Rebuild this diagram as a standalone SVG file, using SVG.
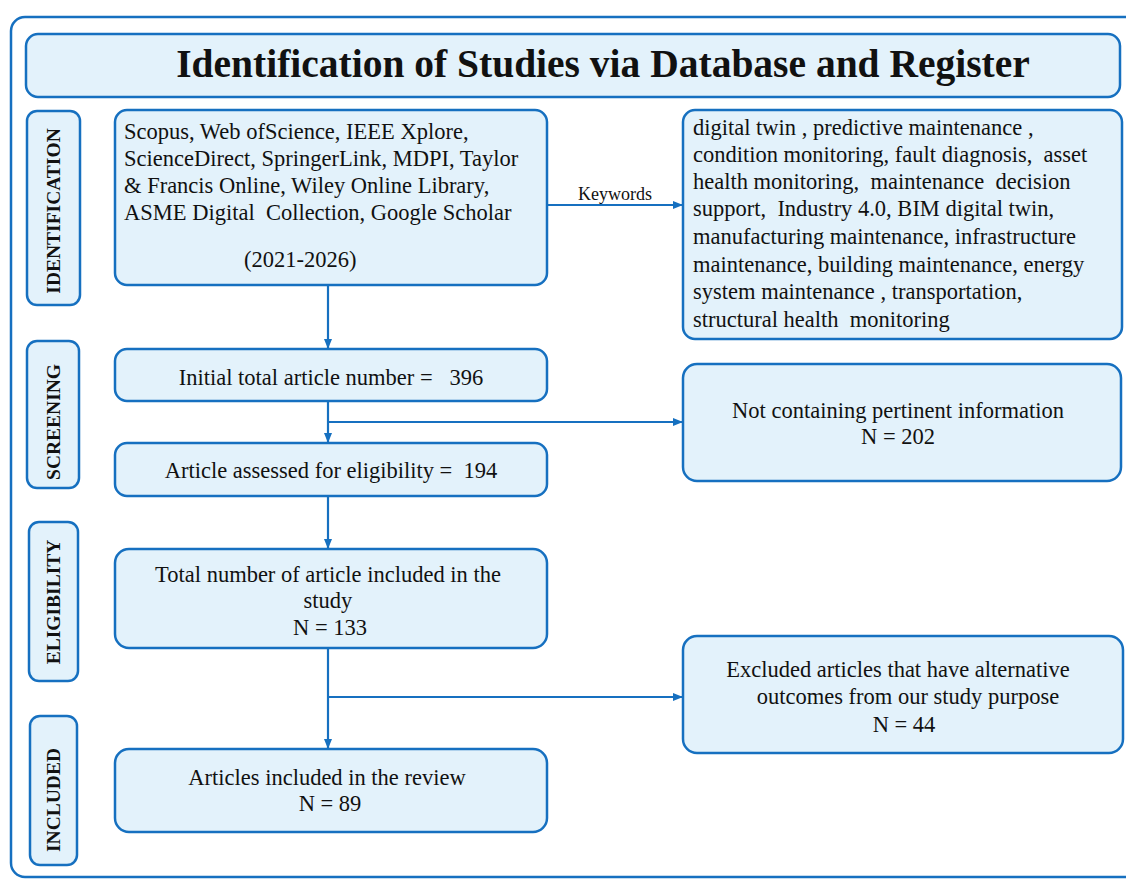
<svg xmlns="http://www.w3.org/2000/svg" width="1126" height="879" viewBox="0 0 1126 879">
<style>
.box{fill:#E3F2FB;stroke:#1670C0;stroke-width:2.5}
.frame{fill:none;stroke:#1670C0;stroke-width:2.5}
.t{font-family:"Liberation Serif","Times New Roman",serif;font-size:22.5px;fill:#111;white-space:pre}
.c{text-anchor:middle}
.side{font-family:"Liberation Serif","Times New Roman",serif;font-size:19.5px;font-weight:bold;fill:#111;text-anchor:middle}
.title{font-family:"Liberation Serif","Times New Roman",serif;font-size:39.5px;font-weight:bold;fill:#111;text-anchor:middle}
.ln{fill:none;stroke:#1670C0;stroke-width:2.2}
</style>
<defs>
<marker id="ah" markerWidth="10" markerHeight="10" refX="9" refY="5" orient="auto" markerUnits="userSpaceOnUse">
<path d="M0,1 L10,5 L0,9 Z" fill="#1670C0"/>
</marker>
</defs>
<rect class="frame" x="11" y="17" width="1140" height="860" rx="14"/>
<g id="title"><rect class="box" x="26" y="34" width="1094" height="63" rx="12"/><text class="title" x="603" y="77">Identification of Studies via Database and Register</text></g>
<g id="lbl-identification"><rect class="box" x="27" y="111" width="53" height="194" rx="10"/><text class="side" transform="translate(60,211) rotate(-90)">IDENTIFICATION</text></g>
<g id="lbl-screening"><rect class="box" x="27" y="341" width="52" height="147" rx="10"/><text class="side" transform="translate(60,422) rotate(-90)">SCREENING</text></g>
<g id="lbl-eligibility"><rect class="box" x="29" y="522" width="49" height="159" rx="10"/><text class="side" transform="translate(60,602) rotate(-90)">ELIGIBILITY</text></g>
<g id="lbl-included"><rect class="box" x="30" y="716" width="47" height="149" rx="10"/><text class="side" transform="translate(60,800) rotate(-90)">INCLUDED</text></g>
<g id="n-sources"><rect class="box" x="115" y="110" width="432" height="175" rx="12"/>
<text class="t" x="124" y="139">Scopus, Web ofScience, IEEE Xplore,</text>
<text class="t" x="124" y="166">ScienceDirect, SpringerLink, MDPI, Taylor</text>
<text class="t" x="124" y="193">&amp; Francis Online, Wiley Online Library,</text>
<text class="t" x="124" y="220">ASME Digital  Collection, Google Scholar</text>
<text class="t" x="244" y="267">(2021-2026)</text></g>
<g id="n-keywords"><rect class="box" x="683" y="110" width="439" height="229" rx="12"/>
<text class="t" x="693" y="135">digital twin , predictive maintenance ,</text>
<text class="t" x="693" y="162">condition monitoring, fault diagnosis,  asset</text>
<text class="t" x="693" y="189">health monitoring,  maintenance  decision</text>
<text class="t" x="693" y="216">support,  Industry 4.0, BIM digital twin,</text>
<text class="t" x="693" y="244">manufacturing maintenance, infrastructure</text>
<text class="t" x="693" y="272">maintenance, building maintenance, energy</text>
<text class="t" x="693" y="299">system maintenance , transportation,</text>
<text class="t" x="693" y="327">structural health  monitoring</text></g>
<g id="n-initial"><rect class="box" x="115" y="349" width="432" height="52" rx="12"/><text class="t c" x="331" y="385">Initial total article number =   396</text></g>
<g id="n-assessed"><rect class="box" x="115" y="443" width="432" height="53" rx="12"/><text class="t c" x="331" y="478">Article assessed for eligibility =  194</text></g>
<g id="n-notcontaining"><rect class="box" x="683" y="364" width="438" height="117" rx="14"/><text class="t c" x="898" y="418">Not containing pertinent information</text><text class="t c" x="898" y="444">N = 202</text></g>
<g id="n-total"><rect class="box" x="115" y="549" width="432" height="99" rx="14"/><text class="t c" x="328" y="582">Total number of article included in the</text><text class="t c" x="328" y="608">study</text><text class="t c" x="330" y="635">N = 133</text></g>
<g id="n-excluded"><rect class="box" x="683" y="636" width="440" height="117" rx="14"/><text class="t c" x="898" y="677">Excluded articles that have alternative</text><text class="t c" x="908" y="704">outcomes from our study purpose</text><text class="t c" x="904" y="732">N = 44</text></g>
<g id="n-review"><rect class="box" x="115" y="749" width="432" height="83" rx="14"/><text class="t c" x="327" y="785">Articles included in the review</text><text class="t c" x="330" y="811">N = 89</text></g>
<g id="connectors">
<line class="ln" x1="547" y1="205" x2="682" y2="205" marker-end="url(#ah)"/>
<text x="615" y="200" style="font-family:'Liberation Serif',serif;font-size:18px;fill:#111;text-anchor:middle">Keywords</text>
<line class="ln" x1="328" y1="285" x2="328" y2="348" marker-end="url(#ah)"/>
<line class="ln" x1="328" y1="401" x2="328" y2="442" marker-end="url(#ah)"/>
<line class="ln" x1="328" y1="422" x2="682" y2="422" marker-end="url(#ah)"/>
<line class="ln" x1="328" y1="496" x2="328" y2="548" marker-end="url(#ah)"/>
<line class="ln" x1="328" y1="648" x2="328" y2="748" marker-end="url(#ah)"/>
<line class="ln" x1="328" y1="697" x2="682" y2="697" marker-end="url(#ah)"/>
</g>
</svg>
